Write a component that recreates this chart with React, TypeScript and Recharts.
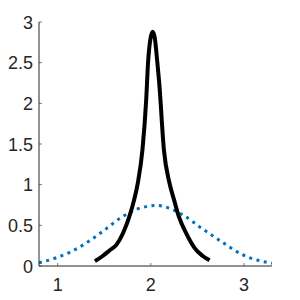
import { LineChart, Line, XAxis, YAxis } from 'recharts';

const peakX = [1.4, 1.48, 1.556, 1.63, 1.7, 1.77, 1.82, 1.86, 1.91, 1.95, 1.97, 2.0, 2.02, 2.04, 2.07, 2.09, 2.14, 2.2, 2.25, 2.3, 2.38, 2.47, 2.55, 2.63];
const peakY = [0.06, 0.12, 0.19, 0.26, 0.4, 0.61, 0.81, 1.02, 1.43, 2.04, 2.5, 2.82, 2.88, 2.82, 2.5, 2.25, 1.43, 1.02, 0.81, 0.61, 0.4, 0.22, 0.13, 0.07];

const wideX = [0.8, 1.0, 1.15, 1.29, 1.5, 1.7, 1.85, 1.95, 2.05, 2.2, 2.34, 2.55, 2.77, 2.98, 3.15, 3.3];
const wideY = [0.04, 0.107, 0.18, 0.27, 0.44, 0.61, 0.7, 0.73, 0.745, 0.71, 0.63, 0.46, 0.29, 0.14, 0.07, 0.035];

const xTicks = [1, 2, 3];
const yTicks = [0, 0.5, 1, 1.5, 2, 2.5, 3];

const peakData = peakX.map((x, i) => ({ x, y: peakY[i] }));
const wideData = wideX.map((x, i) => ({ x, y: wideY[i] }));

const axisColor = '#262626';
const font = '"Liberation Sans", Arial, sans-serif';

const XTick = ({ x, y, payload }: any) => (
  <g>
    <line x1={x} x2={x} y1={y} y2={y - 3} stroke={axisColor} strokeWidth={0.6} />
    <text x={x} y={y + 25} textAnchor="middle" fill={axisColor} fontSize={18} fontFamily={font}>
      {payload.value}
    </text>
  </g>
);

const YTick = ({ x, y, payload }: any) => (
  <g>
    <line x1={x} x2={x + 3} y1={y} y2={y} stroke={axisColor} strokeWidth={0.6} />
    <text x={x - 6} y={y + 6.5} textAnchor="end" fill={axisColor} fontSize={18} fontFamily={font}>
      {payload.value}
    </text>
  </g>
);

export default function App() {
  return (
    <div style={{ position: 'absolute', left: 0, top: 0, background: '#fff' }}>
      <LineChart width={300} height={300} margin={{ top: 22, right: 28, bottom: 0, left: 0 }}>
        <XAxis
          type="number"
          dataKey="x"
          domain={[0.8, 3.3]}
          ticks={xTicks}
          allowDataOverflow
          tickSize={0}
          tickMargin={0}
          height={34}
          stroke={axisColor}
          tick={<XTick />}
        />
        <YAxis
          type="number"
          dataKey="y"
          domain={[0, 3]}
          ticks={yTicks}
          allowDataOverflow
          tickSize={0}
          tickMargin={0}
          width={39}
          stroke={axisColor}
          tick={<YTick />}
        />
        <Line
          data={wideData}
          dataKey="y"
          type="monotone"
          stroke="#0072BD"
          strokeWidth={3}
          strokeDasharray="3 4.5"
          dot={false}
          isAnimationActive={false}
        />
        <Line
          data={peakData}
          dataKey="y"
          type="monotone"
          stroke="#000"
          strokeWidth={4}
          dot={false}
          isAnimationActive={false}
        />
      </LineChart>
    </div>
  );
}
